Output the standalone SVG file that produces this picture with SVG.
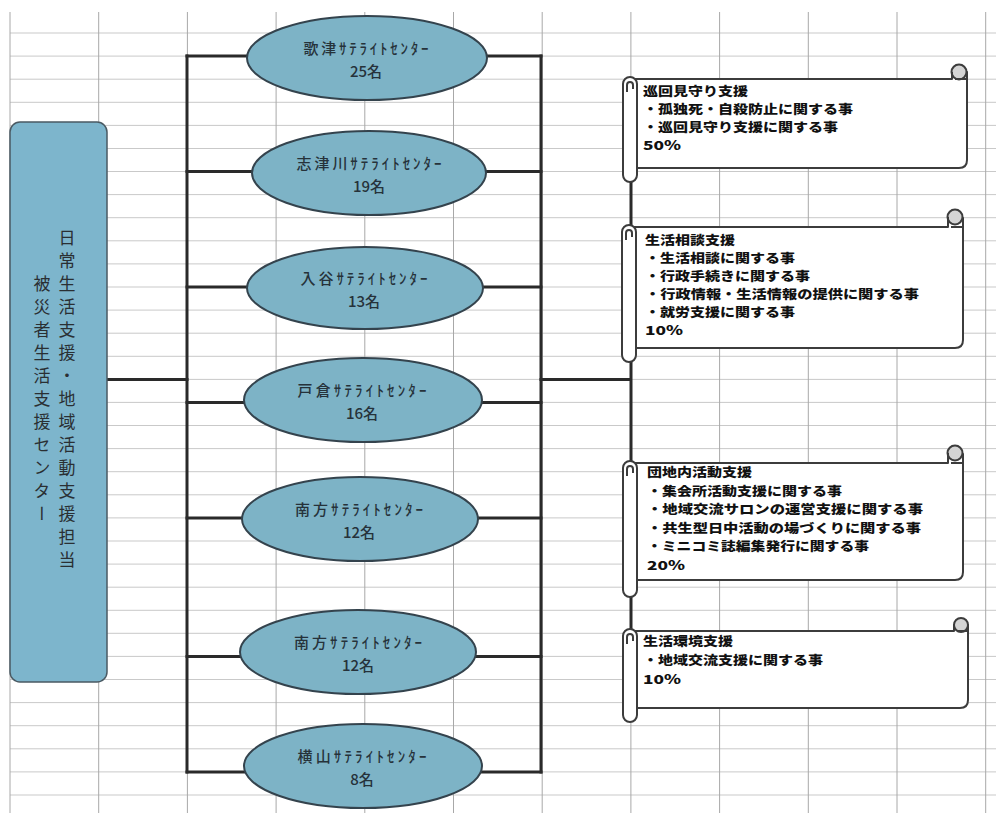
<svg xmlns="http://www.w3.org/2000/svg" width="996" height="813" viewBox="0 0 996 813">
<style>
.grid-h{stroke:#c9c9c9;stroke-width:1;fill:none}
.grid-v{stroke:#a8a8a8;stroke-width:1;fill:none}
.conn{stroke:#2a2a2a;stroke-width:3;fill:none;stroke-linecap:square}
.ell{fill:#7db3c6;stroke:#34434d;stroke-width:2}
.etxt{font-family:"Noto Sans CJK JP","Noto Sans",sans-serif;font-size:15px;font-weight:500;fill:#26323a;text-anchor:middle}
.side{fill:#7db5cc;stroke:#4a5a63;stroke-width:1.5}
.vtxt{font-family:"Noto Sans CJK JP",sans-serif;font-size:17px;fill:#2a2f33;writing-mode:vertical-rl;text-anchor:middle;letter-spacing:6px}
.scroll{fill:#ffffff;stroke:#3c3c3c;stroke-width:2;stroke-linejoin:round}
.curl{fill:#d4d4d4;stroke:#3c3c3c;stroke-width:2}
.stxt{font-family:"Noto Sans CJK JP",sans-serif;font-size:12.4px;font-weight:900;fill:#111}
</style>
<rect x="0" y="0" width="996" height="813" fill="#ffffff"/>
<g id="grid">
<path class="grid-h" d="M10 33H996M10 56.1H996M10 79.2H996M10 102.3H996M10 125.4H996M10 148.5H996M10 171.5H996M10 194.6H996M10 217.7H996M10 240.8H996M10 263.9H996M10 287H996M10 310.1H996M10 333.2H996M10 356.3H996M10 379.4H996M10 402.4H996M10 425.5H996M10 448.6H996M10 471.7H996M10 494.8H996M10 517.9H996M10 541H996M10 564.1H996M10 587.2H996M10 610.3H996M10 633.3H996M10 656.4H996M10 679.5H996M10 702.6H996M10 725.7H996M10 748.8H996M10 771.9H996M10 795H996"/>
<path class="grid-v" d="M10 12V813M98.7 12V813M187.4 12V813M276.1 12V813M364.8 12V813M453.5 12V813M542.2 12V813M630.9 12V813M719.6 12V813M808.3 12V813M897 12V813M985.7 12V813"/>
</g>
<g id="connectors">
<path class="conn" d="M187 56V772M541 56V772"/>
<path class="conn" d="M187 56H541M187 171.5H541M187 287H541M187 402.4H541M187 518H541M187 656.4H541M187 772H541"/>
<path class="conn" d="M107 379.4H187M541 379.4H631M631 182V631"/>
</g>
<g id="center">
<rect class="side" x="10" y="122" width="97" height="560" rx="10"/>
<text class="vtxt" x="67" y="402">日常生活支援・地域活動支援担当</text>
<text class="vtxt" x="42" y="402">被災者生活支援センター</text>
</g>
<g id="sat1">
<ellipse class="ell" cx="367" cy="58" rx="120" ry="42"/>
<text class="etxt" x="366" y="54" textLength="125" lengthAdjust="spacing">歌津ｻﾃﾗｲﾄｾﾝﾀｰ</text>
<text class="etxt" x="366" y="77">25名</text>
</g>
<g id="sat2">
<ellipse class="ell" cx="369" cy="173" rx="117" ry="42"/>
<text class="etxt" x="369" y="169" textLength="145" lengthAdjust="spacing">志津川ｻﾃﾗｲﾄｾﾝﾀｰ</text>
<text class="etxt" x="369" y="192">19名</text>
</g>
<g id="sat3">
<ellipse class="ell" cx="365" cy="288" rx="118" ry="41"/>
<text class="etxt" x="364" y="284" textLength="127" lengthAdjust="spacing">入谷ｻﾃﾗｲﾄｾﾝﾀｰ</text>
<text class="etxt" x="364" y="307">13名</text>
</g>
<g id="sat4">
<ellipse class="ell" cx="363" cy="400" rx="119" ry="42"/>
<text class="etxt" x="362" y="396" textLength="129" lengthAdjust="spacing">戸倉ｻﾃﾗｲﾄｾﾝﾀｰ</text>
<text class="etxt" x="362" y="419">16名</text>
</g>
<g id="sat5">
<ellipse class="ell" cx="360" cy="519" rx="118" ry="42"/>
<text class="etxt" x="359" y="515" textLength="128" lengthAdjust="spacing">南方ｻﾃﾗｲﾄｾﾝﾀｰ</text>
<text class="etxt" x="359" y="538">12名</text>
</g>
<g id="sat6">
<ellipse class="ell" cx="358" cy="652" rx="118" ry="42"/>
<text class="etxt" x="358" y="648" textLength="128" lengthAdjust="spacing">南方ｻﾃﾗｲﾄｾﾝﾀｰ</text>
<text class="etxt" x="358" y="671">12名</text>
</g>
<g id="sat7">
<ellipse class="ell" cx="363" cy="766" rx="119" ry="42"/>
<text class="etxt" x="362" y="762" textLength="129" lengthAdjust="spacing">横山ｻﾃﾗｲﾄｾﾝﾀｰ</text>
<text class="etxt" x="362" y="785">8名</text>
</g>
<g id="task1">
<path class="scroll" d="M630 79H952V72H967V160Q967 168 959 168H630Z"/>
<circle class="curl" cx="959" cy="72" r="7.5"/>
<path class="scroll" d="M952 72V79M955 79H967" fill="none"/>
<rect class="scroll" x="623" y="77" width="14" height="105" rx="7"/>
<path class="scroll" d="M627 92V85A3 3 0 0 1 633 85V89" fill="none"/>
<text class="stxt" x="643" y="96" textLength="105" lengthAdjust="spacingAndGlyphs">巡回見守り支援</text>
<text class="stxt" x="643" y="114" textLength="210" lengthAdjust="spacingAndGlyphs">・孤独死・自殺防止に関する事</text>
<text class="stxt" x="643" y="132" textLength="195" lengthAdjust="spacingAndGlyphs">・巡回見守り支援に関する事</text>
<text class="stxt" x="643" y="150" textLength="38" lengthAdjust="spacingAndGlyphs">50%</text>
</g>
<g id="task2">
<path class="scroll" d="M630 227H948V218H963V340Q963 348 955 348H630Z"/>
<circle class="curl" cx="955" cy="217" r="7.5"/>
<path class="scroll" d="M948 217V227M951 227H963" fill="none"/>
<rect class="scroll" x="622" y="225" width="14" height="137" rx="7"/>
<path class="scroll" d="M626 240V233A3 3 0 0 1 632 233V237" fill="none"/>
<text class="stxt" x="645" y="245" textLength="90" lengthAdjust="spacingAndGlyphs">生活相談支援</text>
<text class="stxt" x="645" y="263" textLength="150" lengthAdjust="spacingAndGlyphs">・生活相談に関する事</text>
<text class="stxt" x="645" y="281" textLength="165" lengthAdjust="spacingAndGlyphs">・行政手続きに関する事</text>
<text class="stxt" x="645" y="299" textLength="274" lengthAdjust="spacingAndGlyphs">・行政情報・生活情報の提供に関する事</text>
<text class="stxt" x="645" y="317" textLength="150" lengthAdjust="spacingAndGlyphs">・就労支援に関する事</text>
<text class="stxt" x="645" y="335" textLength="38" lengthAdjust="spacingAndGlyphs">10%</text>
</g>
<g id="task3">
<path class="scroll" d="M630 463H948V454H963V572Q963 580 955 580H630Z"/>
<circle class="curl" cx="955" cy="453" r="7.5"/>
<path class="scroll" d="M948 453V463M951 463H963" fill="none"/>
<rect class="scroll" x="623" y="461" width="14" height="136" rx="7"/>
<path class="scroll" d="M627 476V469A3 3 0 0 1 633 469V473" fill="none"/>
<text class="stxt" x="647" y="477" textLength="105" lengthAdjust="spacingAndGlyphs">団地内活動支援</text>
<text class="stxt" x="647" y="495.5" textLength="195" lengthAdjust="spacingAndGlyphs">・集会所活動支援に関する事</text>
<text class="stxt" x="647" y="514" textLength="276" lengthAdjust="spacingAndGlyphs">・地域交流サロンの運営支援に関する事</text>
<text class="stxt" x="647" y="532.5" textLength="274" lengthAdjust="spacingAndGlyphs">・共生型日中活動の場づくりに関する事</text>
<text class="stxt" x="647" y="551" textLength="222" lengthAdjust="spacingAndGlyphs">・ミニコミ誌編集発行に関する事</text>
<text class="stxt" x="647" y="569.5" textLength="38" lengthAdjust="spacingAndGlyphs">20%</text>
</g>
<g id="task4">
<path class="scroll" d="M630 631H954V625H968V700Q968 708 960 708H630Z"/>
<circle class="curl" cx="961" cy="625" r="7"/>
<path class="scroll" d="M954 625V631M957 631H968" fill="none"/>
<rect class="scroll" x="623" y="629" width="14" height="93" rx="7"/>
<path class="scroll" d="M627 644V637A3 3 0 0 1 633 637V641" fill="none"/>
<text class="stxt" x="643" y="646" textLength="90" lengthAdjust="spacingAndGlyphs">生活環境支援</text>
<text class="stxt" x="643" y="665" textLength="180" lengthAdjust="spacingAndGlyphs">・地域交流支援に関する事</text>
<text class="stxt" x="643" y="684" textLength="38" lengthAdjust="spacingAndGlyphs">10%</text>
</g>
</svg>
